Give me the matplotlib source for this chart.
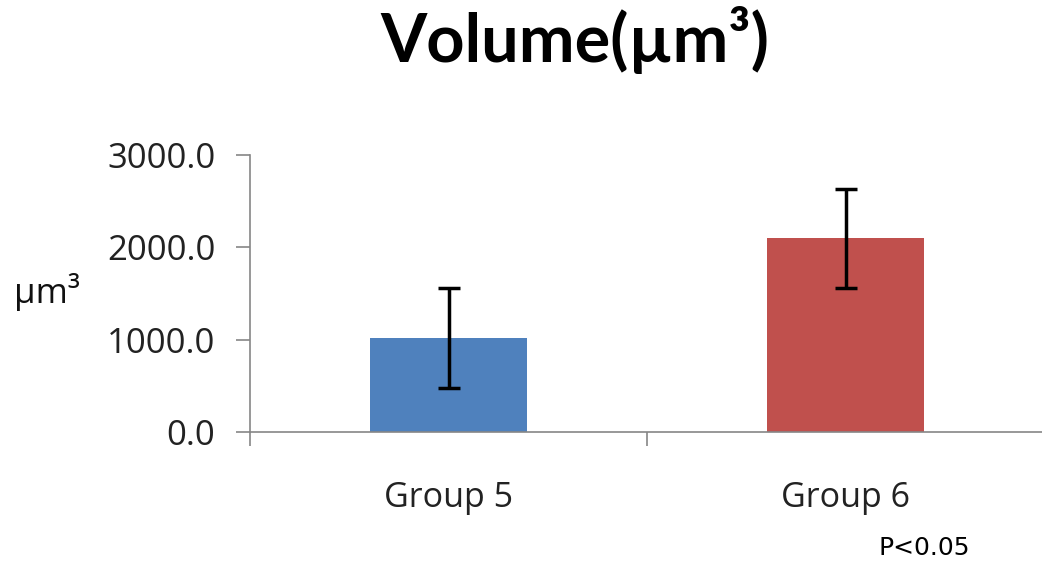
import matplotlib
matplotlib.use("Agg")
import matplotlib.pyplot as plt

# 两组体积均值及误差
groups = ["Group 5", "Group 6"]
volumes = [1020.0, 2097.0]
errors = [540.0, 540.0]
colors = ["#4f81bd", "#c0504d"]

plt.rcParams['font.family'] = ['Open Sans', 'DejaVu Sans']

fig = plt.figure(figsize=(10.42, 5.69), dpi=100)
ax = fig.add_axes([250 / 1042, 137 / 569, 794 / 1042, 277 / 569])

x = list(range(len(groups)))
ax.bar(x, volumes, width=0.395, color=colors, zorder=2)
ax.errorbar(x, volumes, yerr=errors, fmt='none', ecolor='black',
            elinewidth=2.5, capsize=8, capthick=2.5, zorder=3)

ax.set_xlim(-0.5, 1.5)
ax.set_ylim(0, 3000)
ax.set_yticks([0, 1000, 2000, 3000])
ax.set_yticklabels(["%.1f" % v for v in [0, 1000, 2000, 3000]], fontsize=25, color='#222222')

# 分隔刻度放主刻度，组名放次刻度
ax.set_xticks([-0.5, 0.5, 1.5])
ax.set_xticklabels([])
ax.set_xticks(x, minor=True)
ax.set_xticklabels(groups, minor=True, fontsize=24.5, color='#222222')
ax.tick_params(axis='x', which='minor', length=0, pad=35)
ax.tick_params(axis='both', which='major', length=10, width=1.2, color='#868686', direction='out')
ax.tick_params(axis='y', pad=15)

for side in ['top', 'right']:
    ax.spines[side].set_visible(False)
for side in ['left', 'bottom']:
    ax.spines[side].set_color('#868686')
    ax.spines[side].set_linewidth(1.2)

fig.text(47 / 1042, 1 - 292 / 569, "µm³", fontsize=25, ha='center', va='center', color='#111111')
fig.suptitle("Volume(µm³)", x=575 / 1042, y=1 - 40 / 569, va='center',
             fontsize=48, fontweight='bold', family=['Lato', 'DejaVu Sans'])
fig.text(924 / 1042, 1 - 548 / 569, "P<0.05", fontsize=18, ha='center', va='center',
         family=['DejaVu Sans'])

fig.savefig("out.png", dpi=100)
